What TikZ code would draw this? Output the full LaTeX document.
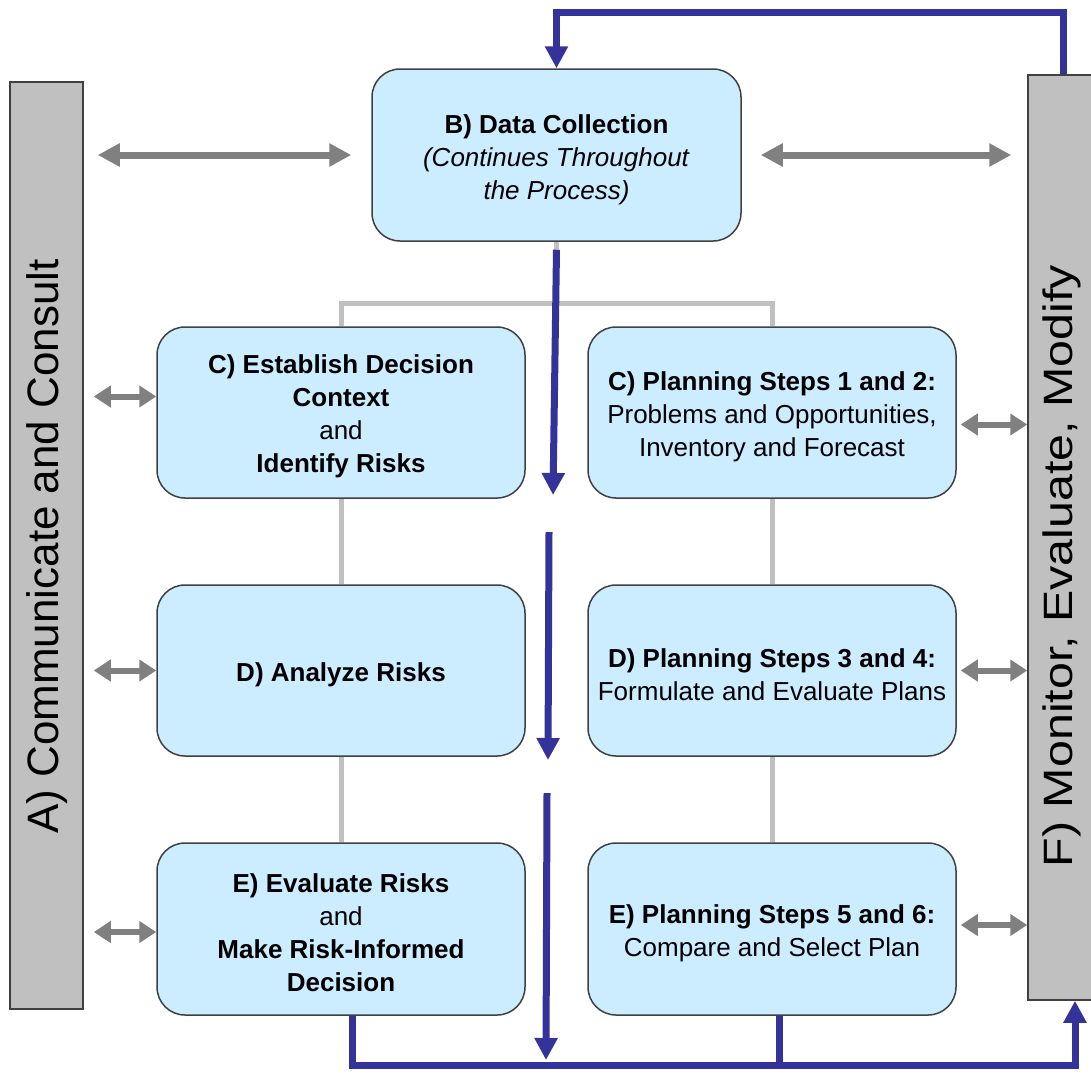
\documentclass[tikz,border=0pt]{standalone}
\usepackage{graphicx}
\usepackage{fontspec}
\setmainfont{Liberation Sans}
\usetikzlibrary{arrows.meta}
\definecolor{boxfill}{HTML}{CCECFF}
\definecolor{barfill}{HTML}{C0C0C0}
\definecolor{edge}{HTML}{404040}
\definecolor{flowblue}{HTML}{333399}
\definecolor{linkgray}{HTML}{808080}
\definecolor{treegray}{HTML}{C0C0C0}

\begin{document}
\begin{tikzpicture}[x=1pt,y=-1pt,
  stepbox/.style={draw=edge, line width=1.5pt, fill=boxfill, rounded corners=28pt,
    minimum width=368pt, minimum height=171pt, inner sep=0pt},
  steptext/.style={align=center, inner sep=0pt, font=\fontsize{26}{33}\selectfont},
  bar/.style={draw=edge, line width=1.5pt, fill=barfill, inner sep=0pt},
  flow/.style={draw=flowblue, line width=7pt, -{Triangle[length=22pt,width=22pt]}},
  flowline/.style={draw=flowblue, line width=7pt},
  tree/.style={draw=treegray, line width=5pt},
  link/.style={draw=linkgray, line width=7pt,
    {Triangle[length=22pt,width=22pt]}-{Triangle[length=22pt,width=22pt]}},
  shortlink/.style={draw=linkgray, line width=6pt,
    {Triangle[length=17pt,width=21pt]}-{Triangle[length=17pt,width=21pt]}},
]
\clip (0,0) rectangle (1091,1072);
\fill[white] (0,0) rectangle (1091,1072);

% side bars
\node[bar, minimum width=73pt, minimum height=927pt] (A) at (46.5,545.5) {};
\node[rotate=90, font=\fontsize{44}{50}\selectfont] (Alabel) at (47,546.5) {A) Communicate and Consult};
\node[bar, minimum width=70pt, minimum height=925pt] (F) at (1063,537.5) {};
\node[rotate=90, font=\fontsize{41}{48}\selectfont] (Flabel) at (1062,566) {\scalebox{1.18}[1]{F) Monitor, Evaluate, Modify}};

% process steps
\node[stepbox, minimum width=369pt, minimum height=172pt] (B) at (556.5,155) {};
\node[stepbox] (C1) at (341,412.5) {};
\node[stepbox] (C2) at (772,412.5) {};
\node[stepbox] (D1) at (341,670.5) {};
\node[stepbox] (D2) at (772,670.5) {};
\node[stepbox, minimum height=172pt] (E1) at (341,929) {};
\node[stepbox, minimum height=172pt] (E2) at (772,929) {};

\node[steptext] (Btext) at ([yshift=-4.5pt]B.center)
  {\textbf{B) Data Collection}\\\textit{(Continues Throughout}\\\textit{the Process)}};
\node[steptext] (C1text) at ([yshift=-4pt]C1.center)
  {\textbf{C) Establish Decision}\\\textbf{Context}\\and\\\textbf{Identify Risks}};
\node[steptext] (C2text) at ([yshift=-4pt]C2.center)
  {\textbf{C) Planning Steps 1 and 2:}\\Problems and Opportunities,\\Inventory and Forecast};
\node[steptext] (D1text) at ([yshift=-4pt]D1.center) {\textbf{D) Analyze Risks}};
\node[steptext] (D2text) at ([yshift=-4pt]D2.center)
  {\textbf{D) Planning Steps 3 and 4:}\\Formulate and Evaluate Plans};
\node[steptext] (E1text) at ([yshift=-4pt]E1.center)
  {\textbf{E) Evaluate Risks}\\and\\\textbf{Make Risk-Informed}\\\textbf{Decision}};
\node[steptext] (E2text) at ([yshift=-4pt]E2.center)
  {\textbf{E) Planning Steps 5 and 6:}\\Compare and Select Plan};

% grey tree linking the two columns
\coordinate (hub) at (556.5,303);
\draw[tree] (B.south) -- (hub);
\draw[tree] (C1.north) |- (hub) -| (C2.north);
\draw[tree] (C1.south) -- (D1.north);
\draw[tree] (D1.south) -- (E1.north);
\draw[tree] (C2.south) -- (D2.north);
\draw[tree] (D2.south) -- (E2.north);

% main flow
\coordinate (t1) at (553,495);
\coordinate (s2) at (549,532);
\coordinate (t2) at (548,760);
\coordinate (s3) at (547,793);
\coordinate (t3) at (546,1060);
\coordinate (bot) at (1075,1065);
\draw[flow] ([yshift=-8pt]B.south) -- (t1);
\draw[flow] (s2) -- (t2);
\draw[flow] (s3) -- (t3);
\draw[flow] ([xshift=11pt]E1.south) |- (bot) -- ([xshift=12pt]F.south);
\draw[flowline] ([xshift=7pt]E2.south) -- ([xshift=7pt]E2.south |- bot);
\draw[flow] (F.north) -- ++(0,-62) -| (B.north);

% two-way exchanges with the side bars
\draw[link] ([xshift=14pt]A.east |- B.west) -- ([xshift=-20pt]B.west);
\draw[link] ([xshift=19pt]B.east) -- ([xshift=-16pt]F.west |- B.east);
\draw[shortlink] ([xshift=10pt,yshift=16pt]A.east |- C1.west) -- ([yshift=16pt]C1.west);
\draw[shortlink] ([xshift=10pt]A.east |- D1.west) -- (D1.west);
\draw[shortlink] ([xshift=10pt,yshift=-3pt]A.east |- E1.west) -- ([yshift=-3pt]E1.west);
\draw[shortlink] ([xshift=4pt,yshift=-12pt]C2.east) -- ([yshift=-12pt]F.west |- C2.east);
\draw[shortlink] ([xshift=4pt]D2.east) -- (F.west |- D2.east);
\draw[shortlink] ([xshift=4pt,yshift=4pt]E2.east) -- ([yshift=4pt]F.west |- E2.east);
\end{tikzpicture}
\end{document}
